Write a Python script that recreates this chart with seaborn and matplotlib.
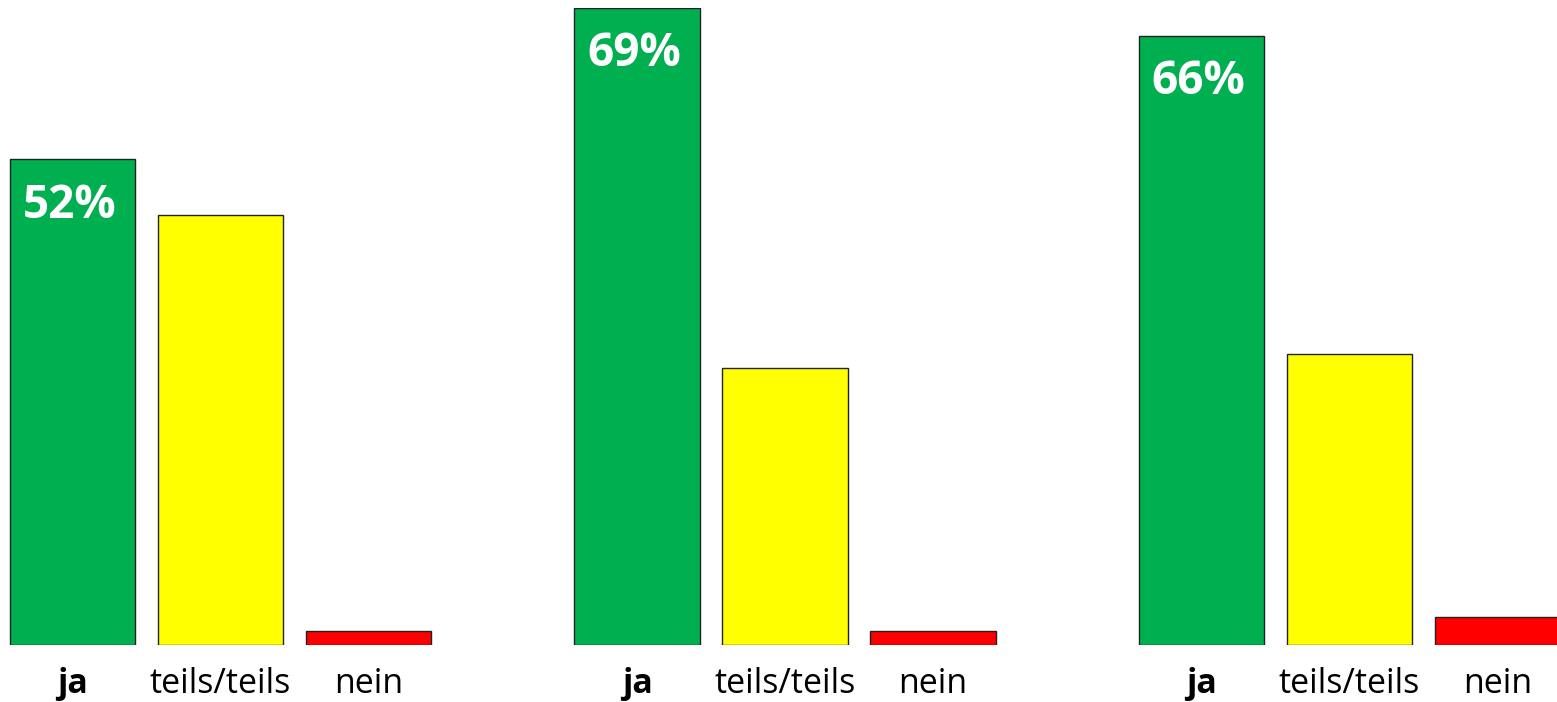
import matplotlib
matplotlib.use('Agg')
import matplotlib.pyplot as plt
import seaborn as sns
import pandas as pd

# Daten
kategorien = ['ja', 'teils/teils', 'nein']
gruppe_1 = [52.6, 46.6, 1.5]
gruppe_2 = [69, 30.0, 1.5]
gruppe_3 = [66, 31.5, 3.0]
beschriftung = ['52%', '69%', '66%']
farben = ['#00B050', '#FFFF00', '#FF0000']

sns.set_theme(style='white')
plt.rcParams['font.family'] = ['Open Sans', 'DejaVu Sans']

W, H = 1557, 702
fig = plt.figure(figsize=(W / 100, H / 100), dpi=100)

gruppen = [gruppe_1, gruppe_2, gruppe_3]
for g, werte in enumerate(gruppen):
    left = -1.5 + 564.5 * g
    ax = fig.add_axes([left / W, 57 / H, 444 / W, 637 / H])
    df = pd.DataFrame({'kat': kategorien, 'wert': werte})
    sns.barplot(data=df, x='kat', y='wert', hue='kat', palette=farben,
                saturation=1, width=0.845, edgecolor='#222222', linewidth=1.0,
                legend=False, ax=ax)
    ax.set_ylim(0, 69)
    ax.set_xlim(-0.5, 2.5)
    ax.set_xlabel('')
    ax.set_ylabel('')
    ax.set_yticks([])
    for s in ax.spines.values():
        s.set_visible(False)
    ax.tick_params(axis='x', length=0, pad=16, labelsize=24.5, labelcolor='black')
    for lbl in ax.get_xticklabels():
        if lbl.get_text() == 'ja':
            lbl.set_fontweight('bold')

    # Prozentwert im ja-Balken
    p = ax.patches[0]
    ax.annotate(beschriftung[g], (p.get_x() + p.get_width() / 2, p.get_height()),
                xytext=(-2, -16), textcoords='offset points',
                ha='center', va='top', color='white',
                fontsize=33, fontweight='bold')

plt.savefig('out.png', dpi=100)
